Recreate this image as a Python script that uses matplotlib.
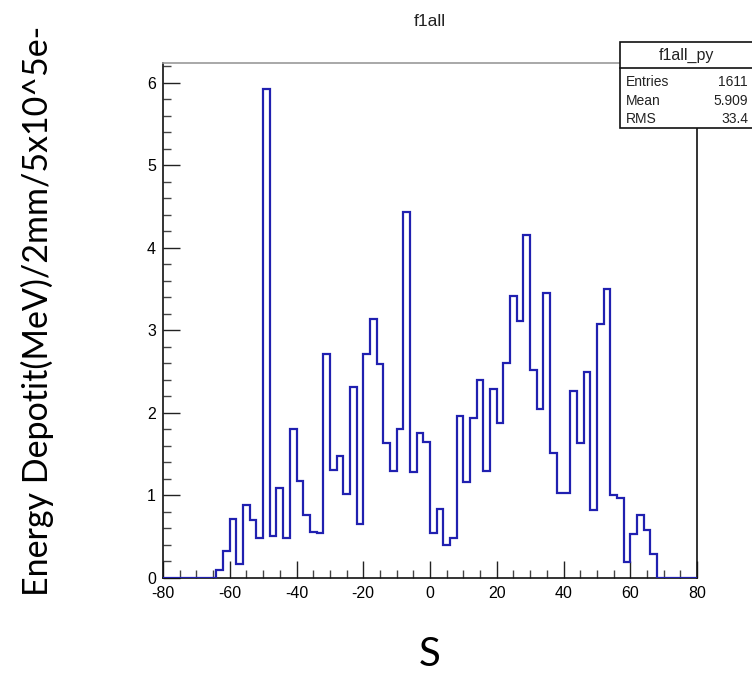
import numpy as np
import matplotlib
matplotlib.use("Agg")
import matplotlib.pyplot as plt
from matplotlib.patches import Rectangle
from matplotlib.lines import Line2D

# ---- data ----
bin_edges = np.arange(-80, 82, 2)
energy = [0, 0, 0, 0, 0, 0, 0, 0,
          0.10, 0.33, 0.72, 0.17, 0.89, 0.70, 0.49, 5.93,
          0.51, 1.09, 0.48, 1.80, 1.18, 0.76, 0.56, 0.54,
          2.72, 1.31, 1.48, 1.02, 2.31, 0.65, 2.71, 3.14,
          2.59, 1.64, 1.30, 1.81, 4.43, 1.28, 1.76, 1.65,
          0.55, 0.84, 0.40, 0.49, 1.96, 1.16, 1.94, 2.40,
          1.30, 2.29, 1.88, 2.60, 3.42, 3.12, 4.15, 2.52,
          2.05, 3.45, 1.52, 1.03, 1.03, 2.27, 1.63, 2.49,
          0.82, 3.08, 3.50, 1.00, 0.97, 0.19, 0.53, 0.76,
          0.58, 0.29, 0, 0, 0, 0, 0, 0]
x_major = [-80, -60, -40, -20, 0, 20, 40, 60, 80]
y_major = [0, 1, 2, 3, 4, 5, 6]
stat_names = ["Entries", "Mean", "RMS"]
stat_values = ["1611", "5.909", "33.4"]
hist_name = "f1all_py"
title = "f1all"

W, H = 752, 674
fig = plt.figure(figsize=(W / 100, H / 100), dpi=100)
L, R, T, B = 163, 697, 63, 578
ax = fig.add_axes([L / W, 1 - B / H, (R - L) / W, (B - T) / H])

ax.stairs(energy, bin_edges, color="#2020b0", linewidth=1.6, zorder=3)
ax.set_xlim(-80, 80)
ax.set_ylim(0, 6.24)

tick_font = dict(family="Liberation Sans", size=11.5)
ax.set_xticks(x_major)
ax.set_yticks(y_major)
ax.set_xticks(np.arange(-80, 81, 5), minor=True)
ax.set_yticks(np.arange(0, 6.21, 0.2), minor=True)
ax.set_xticklabels([str(v) for v in x_major], fontdict=tick_font)
ax.set_yticklabels([str(v) for v in y_major], fontdict=tick_font)
ax.tick_params(axis="both", which="major", direction="in", length=12, width=1,
               color="#222222")
ax.tick_params(axis="both", which="minor", direction="in", length=6, width=1,
               color="#444444")
ax.tick_params(axis="x", which="major", pad=6)
ax.tick_params(axis="y", which="major", pad=5)

for s in ["left", "bottom", "right"]:
    ax.spines[s].set_color("#111111")
    ax.spines[s].set_linewidth(1.2)
ax.spines["top"].set_color("#9a9a9a")
ax.spines["top"].set_linewidth(1.2)

# title
fig.text(430 / W, 1 - 22 / H, title, ha="center", va="center",
         family="Liberation Sans", fontsize=12.5, color="#222222")

# axis labels
fig.text(37 / W, 1 - 311 / H, "Energy Depotit(MeV)/2mm/5x10^5e-", rotation=90,
         ha="center", va="center", family="Lato", fontsize=24.5, color="black")
fig.text(430 / W, 1 - 655 / H, "S", ha="center", va="center",
         family="Lato", fontsize=29, color="black")

# stats box
bx0, by0, bx1, by1 = 620, 42, 760, 128
hdr = 68
fig.add_artist(Rectangle((bx0 / W, 1 - by1 / H), (bx1 - bx0) / W, (by1 - by0) / H,
                         transform=fig.transFigure, facecolor="white",
                         edgecolor="#111111", linewidth=1.2, zorder=5))
fig.add_artist(Line2D([bx0 / W, 1], [1 - hdr / H, 1 - hdr / H],
                      transform=fig.transFigure, color="#111111", linewidth=1.2, zorder=6))
fig.text((bx0 + 752) / 2 / W, 1 - 55 / H, hist_name, ha="center", va="center",
         family="Liberation Sans", fontsize=11.5, color="#222222", zorder=7)
row_y = [82, 101, 119]
for name, val, yy in zip(stat_names, stat_values, row_y):
    fig.text(626 / W, 1 - yy / H, name, ha="left", va="center",
             family="Liberation Sans", fontsize=10, color="#222222", zorder=7)
    fig.text(748 / W, 1 - yy / H, val, ha="right", va="center",
             family="Liberation Sans", fontsize=10, color="#222222", zorder=7)

fig.savefig("out.png", dpi=100, facecolor="white")
